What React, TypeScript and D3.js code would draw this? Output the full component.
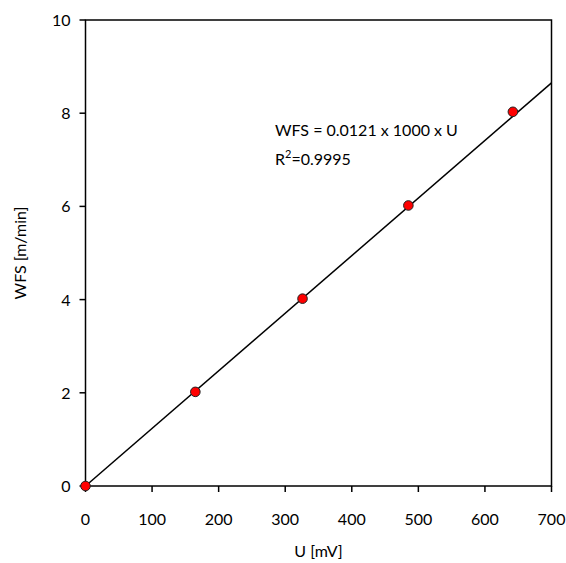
import React from 'react';
import * as d3 from 'd3';

// measured points
const pointsU = [0, 165, 326, 485, 642];
const pointsWFS = [0, 2.02, 4.02, 6.02, 8.03];

// fitted line end points
const fitU = [0, 700];
const fitWFS = [0, 8.65];

const ticksX = [0, 100, 200, 300, 400, 500, 600, 700];
const ticksY = [0, 2, 4, 6, 8, 10];

const equationLines = ['WFS = 0.0121 x 1000 x U'];

const font = 'Lato, "Open Sans", sans-serif';

function App() {
    const width = 566, height = 563;
    const left = 85.5, right = 551.5, top = 20, bottom = 486;

    const x = d3.scaleLinear().domain([0, 700]).range([left, right]);
    const y = d3.scaleLinear().domain([0, 10]).range([bottom, top]);

    const line = d3.line<number>()
                    .x((v) => x(v))
                    .y((v, i) => y(fitWFS[i]));

    return (
        <svg width={width} height={height} style={{position: 'absolute', left: 0, top: 0}} xmlns="http://www.w3.org/2000/svg">
            <rect x={0} y={0} width={width} height={height} fill="white" />
            <path d={line(fitU) || ''} stroke="black" strokeWidth={1.5} fill="none" />
            <rect x={left} y={top} width={right - left} height={bottom - top} fill="none" stroke="black" strokeWidth={1.5} />
            {ticksX.map((v, i) =>
                <g key={`tx_${i}`} transform={`translate(${x(v)}, ${bottom})`}>
                    <line x1={0} x2={0} y1={0} y2={6} stroke="black" strokeWidth={1.5} />
                    <text x={0} y={39} textAnchor="middle" fontFamily={font} fontSize={16} fill="black">{v}</text>
                </g>
            )}
            {ticksY.map((v, i) =>
                <g key={`ty_${i}`} transform={`translate(${left}, ${y(v)})`}>
                    <line x1={0} x2={-6} y1={0} y2={0} stroke="black" strokeWidth={1.5} />
                    <text x={-15} y={6} textAnchor="end" fontFamily={font} fontSize={16} fill="black">{v}</text>
                </g>
            )}
            {pointsU.map((v, i) =>
                <circle key={`p_${i}`} cx={x(v)} cy={y(pointsWFS[i])} r={4.8} fill="#ff0000" stroke="#222" strokeWidth={1} />
            )}
            <text x={275} y={136} fontFamily={font} fontSize={16} fill="black">{equationLines[0]}</text>
            <text x={275} y={165} fontFamily={font} fontSize={16} fill="black">R<tspan dy={-7} fontSize={11}>2</tspan><tspan dy={7}>=0.9995</tspan></text>
            <text x={(left + right) / 2} y={557} textAnchor="middle" fontFamily={font} fontSize={16} fill="black">U [mV]</text>
            <text transform={`translate(26, ${(top + bottom) / 2}) rotate(-90)`} textAnchor="middle" fontFamily={font} fontSize={16} fill="black">WFS [m/min]</text>
        </svg>
    );
}

export default App;
